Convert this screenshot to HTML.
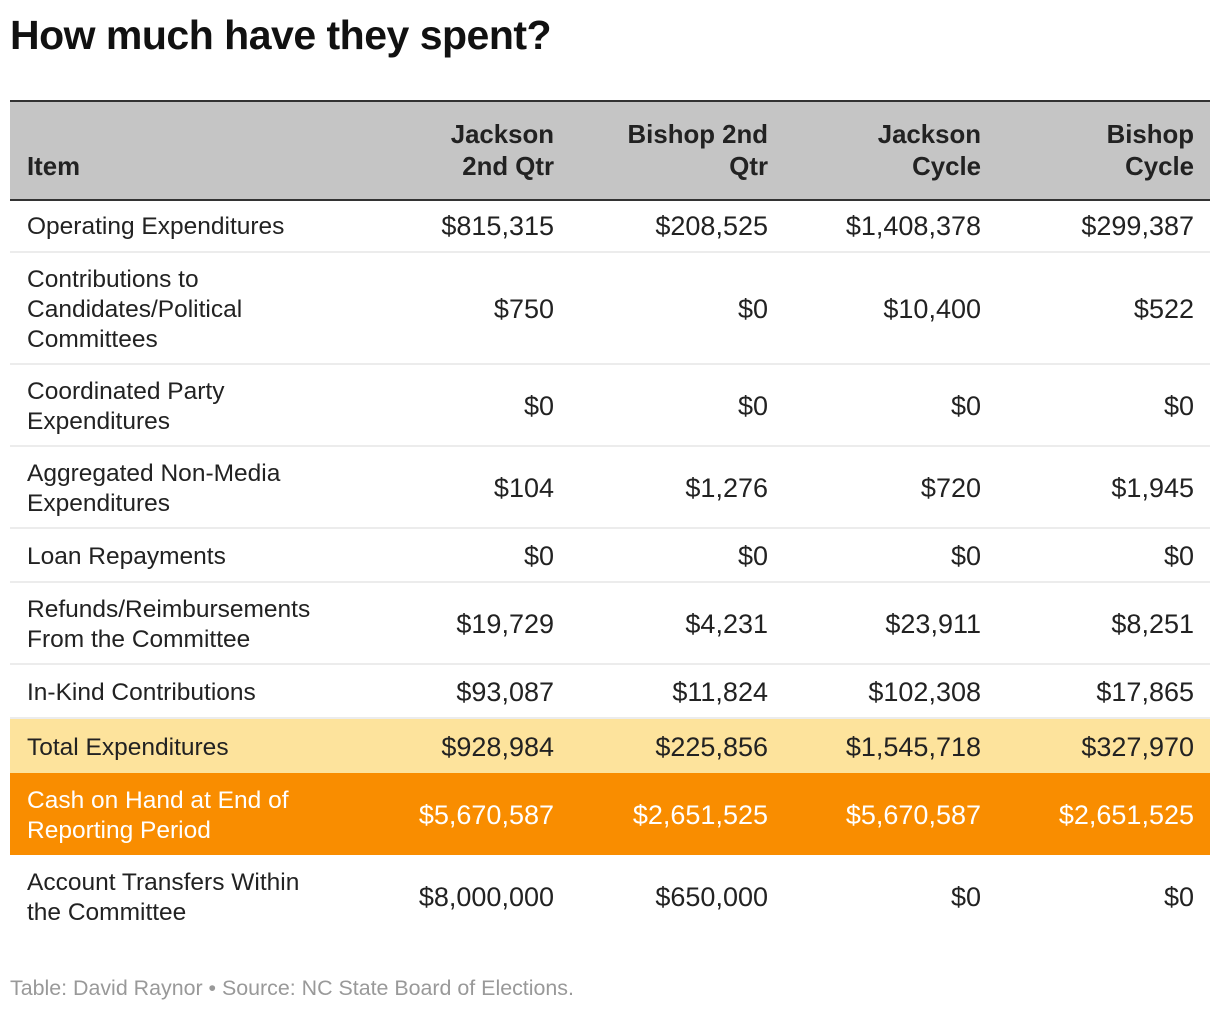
<!DOCTYPE html>
<html><head><meta charset="utf-8">
<style>
body{margin:0;width:1220px;height:1012px;background:#fff;font-family:"Liberation Sans",Arial,sans-serif;color:#222;position:relative;overflow:hidden}
.title{position:absolute;left:10px;top:12px;font-size:41px;font-weight:bold;color:#111;letter-spacing:-0.5px}
.head{position:absolute;left:10px;width:1200px;top:100px;height:97px;background:#c5c5c5;border-top:2px solid #333;border-bottom:2px solid #333}
.row{position:absolute;left:10px;width:1200px;border-bottom:2px solid #ececec;box-sizing:border-box}
.c{position:absolute;top:4px;bottom:0;display:flex;align-items:center;font-size:24.5px;line-height:30px}
.num{font-size:27px;top:2px}
.item{left:17px;width:330px}
.num{justify-content:flex-end;text-align:right}
.n1{right:656px}.n2{right:442px}.n3{right:229px}.n4{right:16px}
.head .c{top:0;align-items:flex-end;padding-bottom:16px;font-weight:bold;color:#222;font-size:25.8px;line-height:32px}
.foot{position:absolute;left:10px;top:976px;font-size:21.4px;color:#999}
</style></head><body>
<div class="title">How much have they spent?</div>
<div class="head">
<div class="c item">Item</div>
<div class="c num n1">Jackson<br>2nd Qtr</div>
<div class="c num n2">Bishop 2nd<br>Qtr</div>
<div class="c num n3">Jackson<br>Cycle</div>
<div class="c num n4">Bishop<br>Cycle</div>
</div>
<div id="rows"></div>
<div class="foot">Table: David Raynor • Source: NC State Board of Elections.</div>
<script>
const items=["Operating Expenditures","Contributions to<br>Candidates/Political<br>Committees","Coordinated Party<br>Expenditures","Aggregated Non-Media<br>Expenditures","Loan Repayments","Refunds/Reimbursements<br>From the Committee","In-Kind Contributions","Total Expenditures","Cash on Hand at End of<br>Reporting Period","Account Transfers Within<br>the Committee"];
const jackson2q=["$815,315","$750","$0","$104","$0","$19,729","$93,087","$928,984","$5,670,587","$8,000,000"];
const bishop2q=["$208,525","$0","$0","$1,276","$0","$4,231","$11,824","$225,856","$2,651,525","$650,000"];
const jacksonCycle=["$1,408,378","$10,400","$0","$720","$0","$23,911","$102,308","$1,545,718","$5,670,587","$0"];
const bishopCycle=["$299,387","$522","$0","$1,945","$0","$8,251","$17,865","$327,970","$2,651,525","$0"];
const tops=[199,253,365,447,529,583,665,719,773,855];
const bottoms=[253,365,447,529,583,665,719,773,855,937];
const host=document.getElementById('rows');
items.forEach((it,i)=>{
  const r=document.createElement('div');
  r.className='row';
  
  
  r.style.top=tops[i]+'px';r.style.height=(bottoms[i]-tops[i])+'px';
  if(i===7){r.style.background='#fde39c';r.style.borderBottom='none';}
  if(i===8){r.style.background='#f98d00';r.style.color='#fff';r.style.borderBottom='none';}
  if(i===9){r.style.borderBottom='none';}
  const cells=[[it,'c item'],[jackson2q[i],'c num n1'],[bishop2q[i],'c num n2'],[jacksonCycle[i],'c num n3'],[bishopCycle[i],'c num n4']];
  cells.forEach((c,j)=>{
    const d=document.createElement('div');
    d.className=c[1];d.innerHTML=c[0];
    
    
    r.appendChild(d);
  });
  host.appendChild(r);
});
</script>
</body></html>
